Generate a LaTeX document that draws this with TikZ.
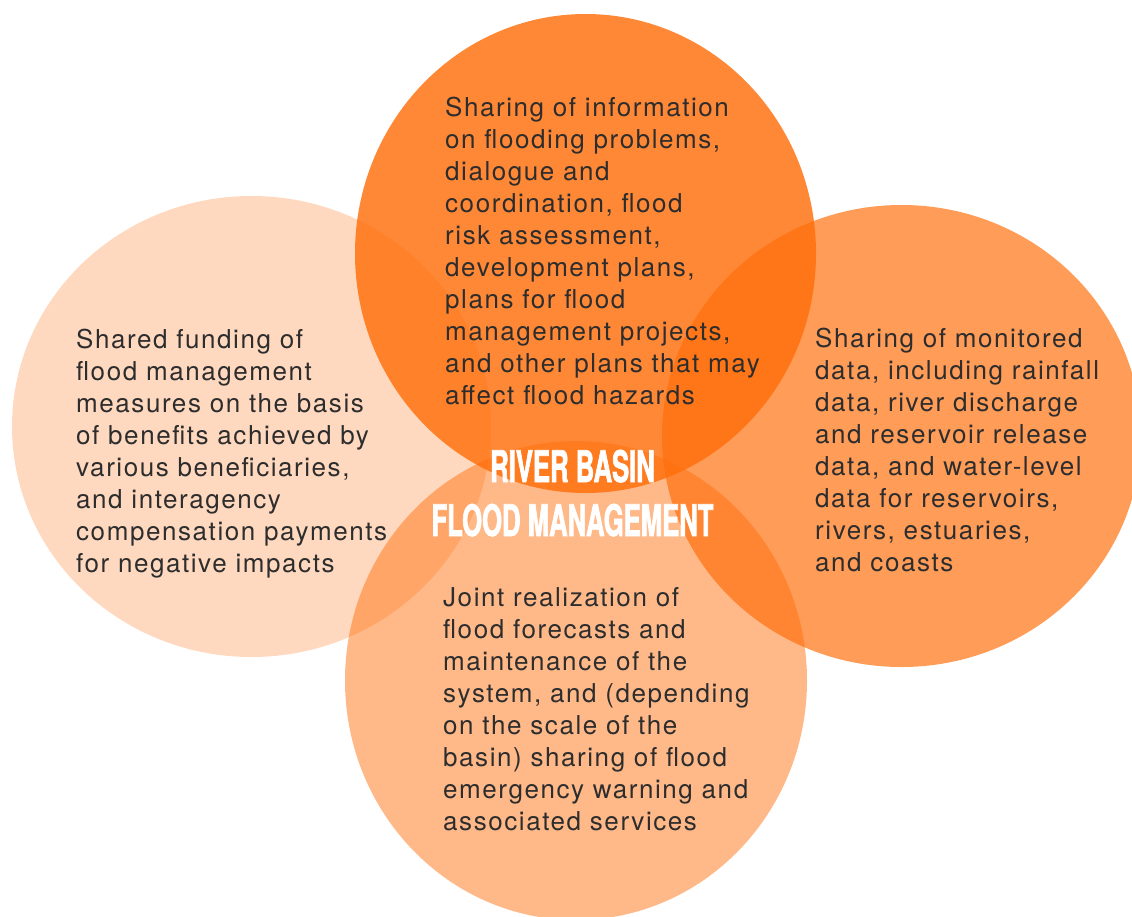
\documentclass[tikz,border=0pt]{standalone}
\usepackage{fontspec}
\setmainfont{TeX Gyre Heros}[LetterSpace=6]
\newfontfamily\titlefont{TeX Gyre Heros}[FakeStretch=0.59, FakeBold=1.5]
\definecolor{floodorange}{RGB}{255,110,10}
\definecolor{bodygray}{RGB}{45,45,45}
\tikzset{
  blob/.style={fill=floodorange, fill opacity=#1},
  blurb/.style={anchor=base west, align=left, inner sep=0pt, text=bodygray, font=\fontsize{26}{32}\selectfont},
  heading/.style={anchor=base, align=center, inner sep=0pt, text=white, font=\titlefont\bfseries\fontsize{43.5}{54}\selectfont}
}
\begin{document}
\begin{tikzpicture}[x=1pt,y=-1pt]
  \clip (0,0) rectangle (1132,916);
  \fill[white] (0,0) rectangle (1132,916);
  % four overlapping discs: left, top, right, bottom
  \foreach \cx/\cy/\rx/\ry/\op in {251.5/426.5/239.5/230.5/.26, 585.5/253.5/230.5/239.5/.82, 901.5/436/239.5/231/.68, 576/680.5/231/239.5/.48}
    \fill[blob=\op] (\cx,\cy) ellipse [x radius=\rx pt, y radius=\ry pt];
  % texts are set on the baseline of their last line
  \node[blurb] (topinfo) at (445,404) {Sharing of information\\on flooding problems,\\dialogue and\\coordination, flood\\risk assessment,\\development plans,\\plans for flood\\management projects,\\and other plans that may\\affect flood hazards};
  \node[blurb] (leftfund) at (76,572) {Shared funding of\\flood management\\measures on the basis\\of benefits achieved by\\various beneficiaries,\\and interagency\\compensation payments\\for negative impacts};
  \node[blurb] (rightdata) at (815,571) {Sharing of monitored\\data, including rainfall\\data, river discharge\\and reservoir release\\data, and water-level\\data for reservoirs,\\rivers, estuaries,\\and coasts};
  \node[blurb] (bottomjoint) at (443,830) {Joint realization of\\flood forecasts and\\maintenance of the\\system, and (depending\\on the scale of the\\basin) sharing of flood\\emergency warning and\\associated services};
  \node[heading] (title) at (572.5,536) {RIVER BASIN\\FLOOD MANAGEMENT};
\end{tikzpicture}
\end{document}
